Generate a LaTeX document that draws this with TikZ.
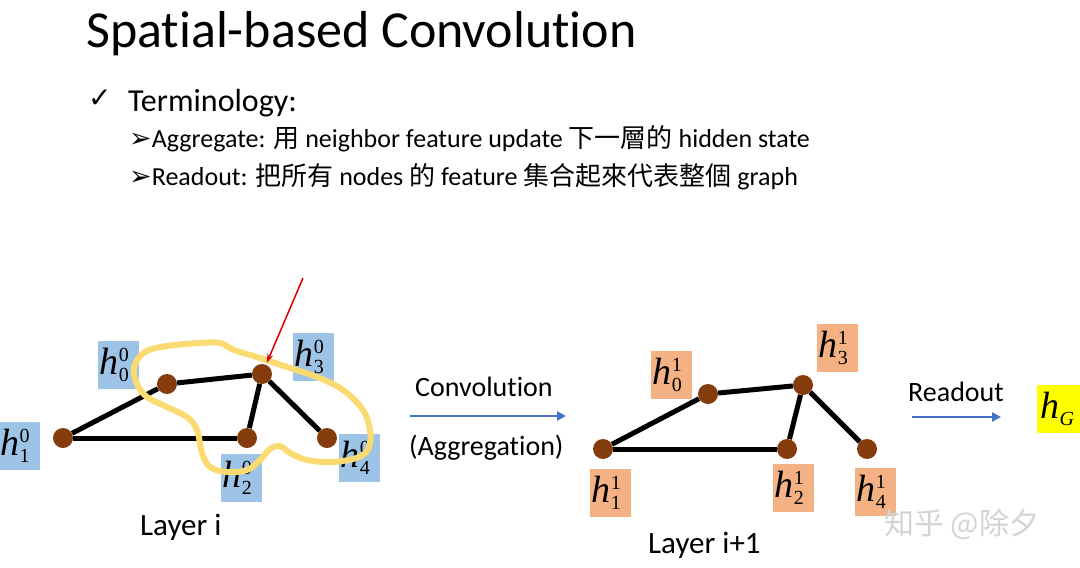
\documentclass[tikz,border=0pt]{standalone}
\usepackage{fontspec}
\setmainfont{Carlito}[Ligatures=NoCommon]
\newfontfamily\cjk{Noto Sans CJK TC}
\newfontfamily\symf{DejaVu Sans}
\newfontfamily\hserif{Liberation Serif}
\usetikzlibrary{arrows.meta}
\definecolor{nodebrown}{HTML}{843C0C}
\definecolor{labblue}{HTML}{9DC3E6}
\definecolor{laborange}{HTML}{F4B183}
\definecolor{loopyellow}{HTML}{FADB72}
\definecolor{arrowblue}{HTML}{4472C4}
\definecolor{hgyellow}{HTML}{FFFF00}
\definecolor{wmgray}{HTML}{D4D4D4}
% h with stacked superscript / subscript
\newcommand\hsym[2]{{\hserif\itshape\fontsize{38}{40}\selectfont h}\kern0.5pt%
  \rlap{\raisebox{13pt}{\hserif\fontsize{20}{20}\selectfont #1}}%
  \raisebox{-7pt}{\hserif\fontsize{20}{20}\selectfont #2}\kern8pt}
\begin{document}
\begin{tikzpicture}[x=1pt,y=-1pt,
  gnode/.style={circle,fill=nodebrown,minimum size=20,inner sep=0},
  edge/.style={line width=5,black},
  lab/.style={minimum width=41,minimum height=48,inner sep=0},
  bluelab/.style={lab,fill=labblue},
  orlab/.style={lab,fill=laborange},
  txt/.style={anchor=base west,inner sep=0},
  flow/.style={draw=arrowblue,line width=2.5,-{Triangle[length=9,width=9]}},
]
\useasboundingbox[fill=white] (0,0) rectangle (1080,568);

% header text
\node[txt,font=\fontsize{52}{60}\selectfont] (title) at (86,47) {Spatial-based Convolution};
\node[txt,font=\fontsize{28}{32}\selectfont\symf] (chk) at (88,107) {✓};
\node[txt,font=\fontsize{32}{36}\selectfont] (term) at (128,111) {Terminology:};
\node[txt,font=\fontsize{26}{30}\selectfont] (agg) at (129,147) {{\symf\fontsize{27}{28}\selectfont ➢}Aggregate: {\cjk 用} neighbor feature update {\cjk 下一層的} hidden state};
\node[txt,font=\fontsize{26}{30}\selectfont] (rd) at (129,185) {{\symf\fontsize{27}{28}\selectfont ➢}Readout: {\cjk 把所有} nodes {\cjk 的} feature {\cjk 集合起來代表整個} graph};

% Layer i graph
\node[gnode] (a0) at (167,384) {};
\node[gnode] (a3) at (262,374) {};
\node[gnode] (a1) at (63,438) {};
\node[gnode] (a2) at (247,438) {};
\node[gnode] (a4) at (327,438) {};
\draw[edge] (a1) -- (a0);
\draw[edge] (a0) -- (a3);
\draw[edge] (a1) -- (a2);
\draw[edge] (a2) -- (a3);
\draw[edge] (a3) -- (a4);
\node[bluelab] (la0) at (118,365) {\hsym{0}{0}};
\node[bluelab] (la3) at (313,357) {\hsym{0}{3}};
\node[bluelab] (la1) at (19,446) {\hsym{0}{1}};
\node[bluelab] (la2) at (241,478) {\hsym{0}{2}};
\node[bluelab] (la4) at (359,458) {\hsym{0}{4}};
\node[txt,font=\fontsize{31}{36}\selectfont] (layi) at (140,535) {Layer i};

% hand-drawn loop
\draw[loopyellow,line width=6,line cap=round,line join=round]
  plot[smooth cycle,tension=0.6] coordinates {
  (134,367) (145,352) (167,346) (200,343) (220,343) (234,350) (260,358)
  (287,367) (317,377) (343,390) (363,410) (370,430) (369,447) (359,457)
  (333,462) (307,460) (290,453) (280,446) (270,449) (260,460) (247,470)
  (227,472) (210,467) (202,453) (197,430) (187,417) (167,407) (147,397)
  (137,384)};

% red arrow
\coordinate (redtail) at (303,278);
\draw[red!85!black,line width=1.5,-{Stealth[length=9,width=6]},shorten >=2] (redtail) -- (a3);

% convolution arrow
\coordinate (c1) at (410,416);
\coordinate (c2) at (566,416);
\draw[flow] (c1) -- (c2);
\node[txt,font=\fontsize{28}{32}\selectfont] (conv) at (415,396) {Convolution};
\node[txt,font=\fontsize{28}{32}\selectfont] (aggr) at (409,455) {(Aggregation)};

% Layer i+1 graph
\node[gnode] (b0) at (708,394) {};
\node[gnode] (b3) at (803,385) {};
\node[gnode] (b1) at (603,449) {};
\node[gnode] (b2) at (787,449) {};
\node[gnode] (b4) at (867,449) {};
\draw[edge] (b1) -- (b0);
\draw[edge] (b0) -- (b3);
\draw[edge] (b1) -- (b2);
\draw[edge] (b2) -- (b3);
\draw[edge] (b3) -- (b4);
\node[orlab] (lb0) at (671,375) {\hsym{1}{0}};
\node[orlab] (lb3) at (837,348) {\hsym{1}{3}};
\node[orlab] (lb1) at (610,493) {\hsym{1}{1}};
\node[orlab] (lb2) at (793,488) {\hsym{1}{2}};
\node[orlab] (lb4) at (875,492) {\hsym{1}{4}};
\node[txt,font=\fontsize{31}{36}\selectfont] (layi1) at (648,553) {Layer i+1};

% readout
\coordinate (r1) at (912,417);
\coordinate (r2) at (1001,417);
\draw[flow] (r1) -- (r2);
\node[txt,font=\fontsize{28}{32}\selectfont] (readout) at (908,401) {Readout};
\node[fill=hgyellow,minimum width=46,minimum height=48,inner sep=0] (hg) at (1060,409)
  {{\hserif\itshape\fontsize{38}{40}\selectfont h}\kern0.5pt\raisebox{-7pt}{\hserif\itshape\fontsize{20}{20}\selectfont G}\kern6pt};

% watermark
\node[txt,font=\fontsize{30}{34}\selectfont\cjk,text=wmgray] (wm) at (884,534) {知乎 @除夕};
\end{tikzpicture}
\end{document}
